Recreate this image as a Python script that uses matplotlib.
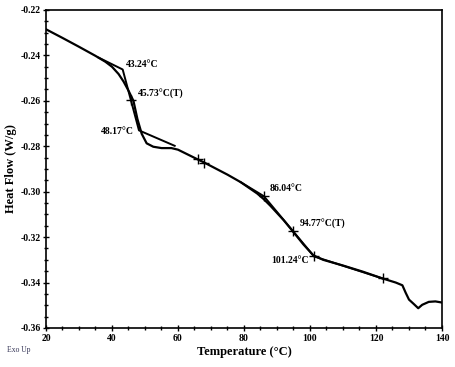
import matplotlib
matplotlib.use("Agg")
from matplotlib import pyplot as plt
from matplotlib.ticker import MultipleLocator

# courbe DSC
temperature = [20, 25, 30, 35, 38, 40, 42, 43.5, 45, 46.5, 47.7, 49, 50.5, 52.5, 55, 58, 60,
               66, 68, 75, 79, 84, 86, 88, 92, 95, 98, 101, 104, 110, 116, 122, 126, 128, 129,
               130, 131.5, 132.8, 134, 136, 138, 140]
flux = [-0.2285, -0.2323, -0.2362, -0.2402, -0.2428, -0.2450, -0.2482, -0.2515, -0.2555,
        -0.2600, -0.2680, -0.2745, -0.2787, -0.2802, -0.2808, -0.2808, -0.2815,
        -0.2858, -0.2872, -0.2925, -0.2958, -0.3008, -0.3033, -0.3062, -0.3125, -0.3178,
        -0.3232, -0.3280, -0.3300, -0.3325, -0.3352, -0.3382, -0.3400, -0.3412, -0.3445,
        -0.3475, -0.3495, -0.3513, -0.3498, -0.3485, -0.3483, -0.3488]

# tangentes (transition vitreuse)
tangente1_T = [36, 43.24, 48.17, 59]
tangente1_F = [-0.2410, -0.2462, -0.2730, -0.2798]
tangente2_T = [79, 86.04, 101.24, 122]
tangente2_F = [-0.2958, -0.3020, -0.3285, -0.3382]

# reperes
reperes_T = [45.73, 66, 68, 86.04, 94.77, 101.24, 122]
reperes_F = [-0.2597, -0.2858, -0.2872, -0.3020, -0.3172, -0.3285, -0.3382]

etiquettes = ["43.24°C", "45.73°C(T)", "48.17°C", "86.04°C", "94.77°C(T)", "101.24°C"]
etiquettes_T = [43.24, 45.73, 48.17, 86.04, 94.77, 101.24]
etiquettes_F = [-0.2462, -0.2597, -0.2730, -0.3020, -0.3172, -0.3285]

plt.rcParams["font.family"] = ["Liberation Serif", "DejaVu Serif"]
plt.rcParams["font.weight"] = "bold"

fig = plt.figure(figsize=(4.55, 3.67), dpi=100)
ax = fig.add_axes([0.1011, 0.1063, 0.8703, 0.8665])

ax.plot(temperature, flux, color="black", lw=1.6)
ax.plot(tangente1_T, tangente1_F, color="black", lw=1.4)
ax.plot(tangente2_T, tangente2_F, color="black", lw=1.4)
ax.plot(reperes_T, reperes_F, "+", color="black", ms=7, mew=1.0)

# decalages des etiquettes (en points)
decalages = [(2, 0), (5, 1), (-4, -4), (4, 2), (5, 1), (-4, -6)]
alignements = ["left", "left", "right", "left", "left", "right"]
for txt, t, f, d, ha in zip(etiquettes, etiquettes_T, etiquettes_F, decalages, alignements):
    ax.annotate(txt, (t, f), xytext=d, textcoords="offset points", ha=ha, va="bottom",
                fontsize=7, fontweight="bold")

ax.set_xlim(20, 140)
ax.set_ylim(-0.36, -0.22)
ax.xaxis.set_major_locator(MultipleLocator(20))
ax.xaxis.set_minor_locator(MultipleLocator(5))
ax.yaxis.set_major_locator(MultipleLocator(0.02))
ax.yaxis.set_minor_locator(MultipleLocator(0.005))
ax.yaxis.set_major_formatter(matplotlib.ticker.FormatStrFormatter("%.2f"))
ax.tick_params(which="major", direction="inout", length=5, width=1, labelsize=7, pad=1)
ax.tick_params(which="minor", direction="inout", length=3, width=1)
ax.tick_params(axis="x", pad=2)
for l in ax.get_xticklabels() + ax.get_yticklabels():
    l.set_fontweight("bold")
for s in ax.spines.values():
    s.set_linewidth(1.2)

ax.set_xlabel("Temperature (°C)", fontsize=9, fontweight="bold", labelpad=2)
ax.set_ylabel("Heat Flow (W/g)", fontsize=9, fontweight="bold", labelpad=3)
fig.text(0.015, 0.042, "Exo Up", fontsize=5.5, color="#333355", fontweight="normal")

fig.savefig("out.png", dpi=100)
